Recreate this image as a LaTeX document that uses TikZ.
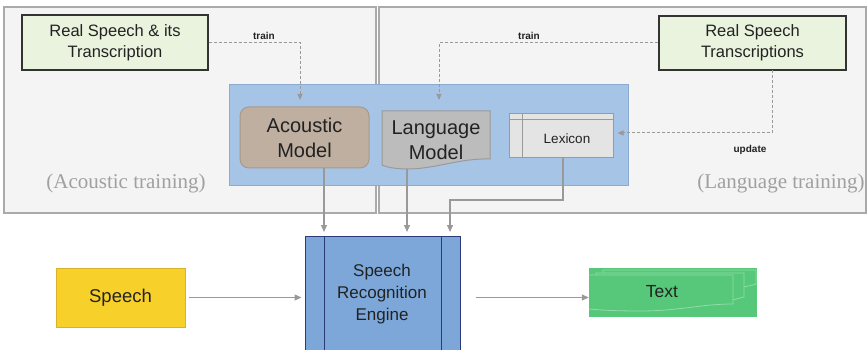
\documentclass[tikz,border=0pt]{standalone}
\usepackage{fontspec}
\setmainfont{Liberation Sans}
\newfontfamily\captionserif{Liberation Serif}
\usetikzlibrary{arrows.meta,calc}

\definecolor{panelfill}{HTML}{F4F4F4}
\definecolor{panelline}{HTML}{AAAAAA}
\definecolor{srcfill}{HTML}{E9F3DD}
\definecolor{darkline}{HTML}{333333}
\definecolor{boxblue}{HTML}{A6C4E6}
\definecolor{boxblueline}{HTML}{8DAAD0}
\definecolor{acfill}{HTML}{BEAFA0}
\definecolor{acline}{HTML}{A8998A}
\definecolor{lmfill}{HTML}{BCBCBC}
\definecolor{lmline}{HTML}{9A9A9A}
\definecolor{lexfill}{HTML}{E4E4E4}
\definecolor{enginefill}{HTML}{7CA7D8}
\definecolor{engineline}{HTML}{2C3B78}
\definecolor{speechfill}{HTML}{F8D02A}
\definecolor{speechline}{HTML}{D8B22C}
\definecolor{textfill}{HTML}{57C879}
\definecolor{textline}{HTML}{8EDCA6}
\definecolor{arrowgray}{HTML}{999999}
\definecolor{inkdark}{HTML}{222222}
\definecolor{captiongray}{HTML}{A0A0A0}

\tikzset{
  panel/.style={draw=panelline, fill=panelfill, line width=1.5pt},
  source/.style={draw=darkline, fill=srcfill, line width=1.2pt, align=center,
    text=inkdark, inner sep=0pt, font=\fontsize{16.5}{21}\selectfont},
  modelbox/.style={align=center, text=inkdark, inner sep=0pt,
    font=\fontsize{20}{25}\selectfont},
  tag/.style={font=\bfseries\fontsize{10}{12}\selectfont, text=inkdark},
  caption/.style={font=\captionserif\fontsize{21}{24}\selectfont, text=captiongray},
  dasharrow/.style={draw=arrowgray, line width=1pt, dash pattern=on 3pt off 2pt,
    -{Triangle[length=6pt,width=5pt]}},
  flow/.style={draw=arrowgray, line width=1.3pt,
    -{Triangle[length=7pt,width=6pt]}},
  flowline/.style={draw=arrowgray, line width=1.3pt},
}

\begin{document}
\begin{tikzpicture}[x=1pt, y=-1pt]
\useasboundingbox (0,0) rectangle (868,350);
\clip (0,0) rectangle (868,350);

% training panels
\node[panel, minimum width=372pt, minimum height=206pt, inner sep=0pt] (acpanel) at (190,110) {};
\node[panel, minimum width=487pt, minimum height=206pt, inner sep=0pt] (lgpanel) at (622.5,110) {};

% model container
\node[draw=boxblueline, fill=boxblue, line width=1pt, minimum width=399pt,
      minimum height=101pt, inner sep=0pt] (models) at (428.5,135.5) {};

% training sources
\node[source, minimum width=186pt, minimum height=55pt] (srcL) at (115,42.5)
  {Real Speech \& its\\Transcription};
\node[source, minimum width=187pt, minimum height=54pt] (srcR) at (752.5,43)
  {Real Speech\\Transcriptions};

% acoustic model
\node[modelbox, draw=acline, fill=acfill, line width=1pt, rounded corners=9pt,
      minimum width=129pt, minimum height=61pt] (acoustic) at (304.5,137.5)
  {Acoustic\\Model};

% language model (document shape)
\draw[draw=lmline, fill=lmfill, line width=1pt]
  (382,111) -- (490,111) -- (490,159)
  .. controls (460,158) and (435,169) .. (408,169)
  .. controls (395,169) and (386,167) .. (382,165) -- cycle;
\node[modelbox, minimum width=108pt, minimum height=58pt] (language) at (436,140)
  {Language\\Model};

% lexicon (table shape)
\node[draw=lmline, fill=lexfill, line width=1pt, minimum width=104pt,
      minimum height=44pt, inner sep=0pt] (lexicon) at (561,136) {};
\draw[draw=lmline, line width=1pt] (lexicon.north west |- 0,120) -- (lexicon.north east |- 0,120);
\draw[draw=lmline, line width=1pt] (522,114) -- (522,158);
\node[font=\fontsize{13.5}{16}\selectfont, text=inkdark] (lextext) at (567,139) {Lexicon};

% training connectors
\coordinate (trainA) at (300,100);
\coordinate (trainB) at (439,100);
\draw[dasharrow] (srcL.east) -| (trainA);
\draw[dasharrow] (srcR.west) -| (trainB);
\coordinate (updTop) at (772,70);
\coordinate (updCorner) at (772,133);
\draw[dasharrow, shorten >=4pt] (updTop) -- (updCorner) -- (lexicon.east |- updCorner);
\node[tag] (trainlabA) at (264,36) {train};
\node[tag] (trainlabB) at (529,36) {train};
\node[tag] (updlab) at (750,150) {update};

% panel captions
\node[caption] (accap) at (126,183) {(Acoustic training)};
\node[caption] (lgcap) at (781,183) {(Language training)};

% recognition engine
\node[draw=engineline, fill=enginefill, line width=1pt, minimum width=155pt,
      minimum height=124pt, inner sep=0pt] (engine) at (382.5,298) {};
\draw[draw=engineline, line width=1pt] (324,236) -- (324,360);
\draw[draw=engineline, line width=1pt] (441,236) -- (441,360);
\node[align=center, text=inkdark, font=\fontsize{17}{22}\selectfont] (enginetext) at (382,294)
  {Speech\\Recognition\\Engine};

% model outputs into the engine
\coordinate (inA) at (324,232);
\coordinate (inB) at (407,232);
\coordinate (inC) at (450,232);
\coordinate (lexBend) at (563,200);
\draw[flow] (acoustic.south -| inA) -- (inA);
\draw[flow] (language.south -| inB) -- (inB);
\draw[flow] (lexicon.south -| lexBend) -- (lexBend) -| (inC);

% input speech
\node[draw=speechline, fill=speechfill, line width=1pt, minimum width=129pt,
      minimum height=59pt, inner sep=0pt, text=inkdark,
      font=\fontsize{18.5}{22}\selectfont] (speech) at (120.5,297.5) {Speech};

% output text (stacked documents)
\node[fill=textfill, minimum width=168pt, minimum height=49pt, inner sep=0pt] (textbox) at (673,292.5) {};
\draw[draw=textline, line width=0.8pt]
  (603,273) -- (603,270) -- (756,270) -- (756,284)
  .. controls (750,286) and (747,286) .. (744,287);
\draw[draw=textline, line width=0.8pt]
  (596,275) -- (596,273) -- (744,273) -- (744,297)
  .. controls (740,298) and (736,299) .. (733,300);
\draw[draw=textline, line width=0.8pt]
  (589,275) -- (733,275) -- (733,304)
  .. controls (700,304) and (680,311) .. (640,311)
  .. controls (615,311) and (600,310) .. (589,309);
\node[text=inkdark, font=\fontsize{17.5}{20}\selectfont] (texttext) at (662,292) {Text};

\draw[flow, shorten <=3pt, shorten >=3pt] (speech.east) -- (engine.west |- speech.east);
\draw[flow, shorten <=15pt] (engine.east |- speech.east) -- (textbox.west |- speech.east);
\end{tikzpicture}
\end{document}
